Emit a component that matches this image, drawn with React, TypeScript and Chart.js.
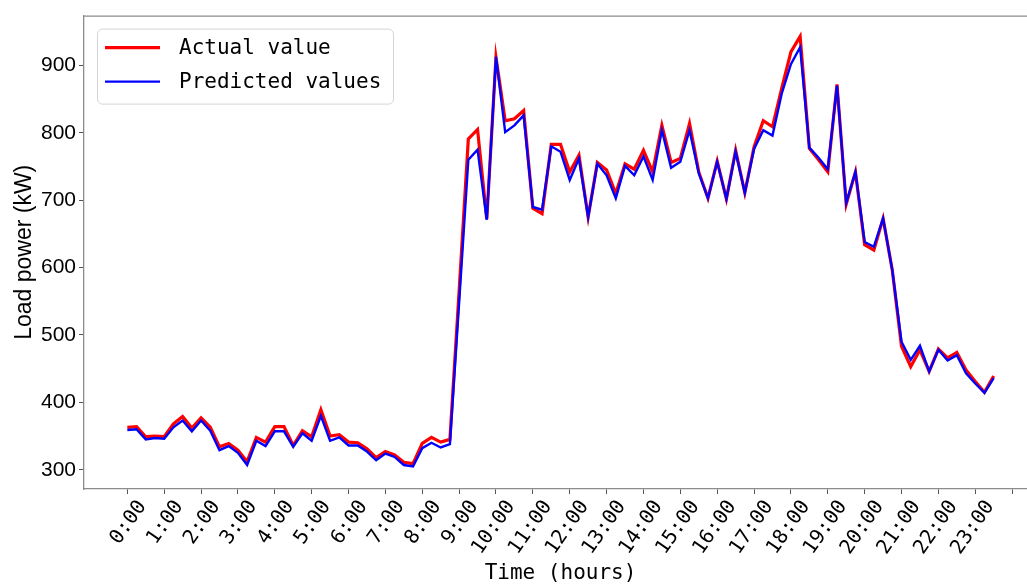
import React, { useEffect, useRef } from "react";
import { Chart, registerables } from "chart.js";

Chart.register(...registerables);

// 15-minute load readings over one day (95 samples, index 0 = 0:00)
const actualValues: number[] = [
  363, 364, 349, 350, 349, 368, 379, 362, 377, 363, 334, 339, 329, 312, 348, 341,
  364, 364, 336, 358, 349, 389, 350, 352, 341, 340, 331, 318, 327, 322, 311, 309,
  339, 348, 341, 345, 565, 791, 805, 672, 912, 818, 821, 833, 688, 680, 783, 783,
  742, 767, 675, 756, 745, 710, 754, 746, 774, 742, 811, 756, 762, 814, 742, 703,
  758, 702, 774, 711, 779, 818, 809, 866, 920, 943, 777, 760, 742, 872, 694, 742,
  634, 626, 673, 596, 483, 453, 478, 446, 479, 466, 474, 448, 431, 415, 439,
];

const predictedValues: number[] = [
  359, 360, 345, 347, 346, 363, 373, 357, 373, 358, 329, 335, 325, 307, 343, 335,
  357, 357, 334, 354, 343, 380, 343, 348, 336, 336, 327, 314, 324, 319, 307, 305,
  332, 340, 333, 338, 548, 760, 775, 671, 913, 801, 811, 826, 690, 686, 780, 772,
  730, 762, 675, 754, 737, 703, 751, 737, 765, 730, 804, 748, 757, 804, 740, 703,
  757, 702, 772, 711, 776, 804, 796, 858, 902, 927, 778, 763, 746, 870, 696, 742,
  638, 631, 673, 596, 490, 463, 484, 446, 478, 462, 470, 443, 428, 414, 436,
];

const hourLabels: string[] = [
  "0:00", "1:00", "2:00", "3:00", "4:00", "5:00", "6:00", "7:00",
  "8:00", "9:00", "10:00", "11:00", "12:00", "13:00", "14:00", "15:00",
  "16:00", "17:00", "18:00", "19:00", "20:00", "21:00", "22:00", "23:00",
];

const xTickPositions: number[] = [
  0, 4, 8, 12, 16, 20, 24, 28, 32, 36, 40, 44, 48, 52, 56, 60, 64, 68, 72, 76, 80, 84, 88, 92, 96,
];
const yTickValues: number[] = [300, 400, 500, 600, 700, 800, 900];

const seriesNames = ["Actual value", "Predicted values"];
const seriesColors = ["#ff0000", "#0000ff"];

const MONO = "'DejaVu Sans Mono', monospace";
const SANS = "'Liberation Sans', Arial, sans-serif";

// Top frame line and the boxed legend inside the plot area
const framePlugin = {
  id: "frameAndLegend",
  afterDraw(chart: any) {
    const { ctx, chartArea } = chart;
    ctx.save();
    ctx.strokeStyle = "#8c8c8c";
    ctx.lineWidth = 1.3;
    ctx.beginPath();
    ctx.moveTo(chartArea.left, chartArea.top + 0.5);
    ctx.lineTo(chartArea.right, chartArea.top + 0.5);
    ctx.stroke();

    const bx = chartArea.left + 13;
    const by = chartArea.top + 13;
    const bw = 296;
    const bh = 75;
    ctx.fillStyle = "rgba(255,255,255,0.8)";
    ctx.strokeStyle = "#d4d4d4";
    ctx.lineWidth = 1;
    ctx.beginPath();
    ctx.roundRect(bx + 0.5, by + 0.5, bw, bh, 5);
    ctx.fill();
    ctx.stroke();

    const rows = [by + 19, by + 53];
    const widths = [3.2, 2.4];
    ctx.font = `21px ${MONO}`;
    ctx.textBaseline = "middle";
    ctx.textAlign = "left";
    rows.forEach((ry, i) => {
      ctx.strokeStyle = seriesColors[i];
      ctx.lineWidth = widths[i];
      ctx.beginPath();
      ctx.moveTo(bx + 8, ry);
      ctx.lineTo(bx + 63, ry);
      ctx.stroke();
      ctx.fillStyle = "#000";
      ctx.fillText(seriesNames[i], bx + 82, ry + 1);
    });
    ctx.restore();
  },
};

export default function App() {
  const canvasRef = useRef<HTMLCanvasElement | null>(null);

  useEffect(() => {
    const canvas = canvasRef.current;
    if (!canvas) return;

    const toPoints = (vals: number[]) => vals.map((v, i) => ({ x: i, y: v }));

    const chart = new Chart(canvas, {
      type: "line",
      data: {
        datasets: [
          {
            label: seriesNames[0],
            data: toPoints(actualValues),
            borderColor: seriesColors[0],
            borderWidth: 3.2,
            pointRadius: 0,
            tension: 0,
            fill: false,
            order: 2,
          },
          {
            label: seriesNames[1],
            data: toPoints(predictedValues),
            borderColor: seriesColors[1],
            borderWidth: 2.4,
            pointRadius: 0,
            tension: 0,
            fill: false,
            order: 1,
          },
        ],
      },
      options: {
        responsive: false,
        animation: false,
        devicePixelRatio: 1,
        layout: { padding: { top: 15, left: 0, right: 3, bottom: 0 } },
        plugins: {
          legend: { display: false },
          tooltip: { enabled: false },
        },
        scales: {
          x: {
            type: "linear",
            min: -4.7,
            max: 98.7,
            afterBuildTicks: (scale: any) => {
              scale.ticks = xTickPositions.map((value) => ({ value }));
            },
            afterFit: (scale: any) => {
              scale.height = 96;
            },
            grid: {
              display: true,
              drawOnChartArea: false,
              drawTicks: true,
              tickLength: 5,
              tickWidth: 1,
              color: "#555",
            },
            border: { display: true, color: "#8c8c8c", width: 1.3 },
            ticks: {
              autoSkip: false,
              minRotation: 55,
              maxRotation: 55,
              labelOffset: 15,
              padding: 2,
              color: "#000",
              font: { family: MONO, size: 20 },
              callback: (value: any) => hourLabels[Math.round(Number(value) / 4)] ?? "",
            },
            title: {
              display: true,
              text: "Time (hours)",
              color: "#000",
              font: { family: MONO, size: 21, lineHeight: 1.1 },
              padding: 0,
            },
          },
          y: {
            type: "linear",
            min: 271.4,
            max: 974,
            afterBuildTicks: (scale: any) => {
              scale.ticks = yTickValues.map((value) => ({ value }));
            },
            afterFit: (scale: any) => {
              scale.width = 84;
            },
            grid: {
              display: true,
              drawOnChartArea: false,
              drawTicks: true,
              tickLength: 5,
              tickWidth: 1,
              color: "#555",
            },
            border: { display: true, color: "#8c8c8c", width: 1.3 },
            ticks: {
              padding: 3,
              color: "#000",
              font: { family: SANS, size: 21 },
            },
            title: {
              display: true,
              text: "Load power (kW)",
              color: "#000",
              font: { family: SANS, size: 23, lineHeight: 1.2 },
              padding: { top: 11, bottom: 0 },
            },
          },
        },
      },
      plugins: [framePlugin],
    } as any);

    return () => {
      chart.destroy();
    };
  }, []);

  return (
    <div
      style={{
        position: "absolute",
        left: 0,
        top: 0,
        width: 1027,
        height: 585,
        overflow: "hidden",
        background: "#fff",
      }}
    >
      <canvas ref={canvasRef} width={1040} height={585} style={{ width: 1040, height: 585, display: "block" }} />
    </div>
  );
}
